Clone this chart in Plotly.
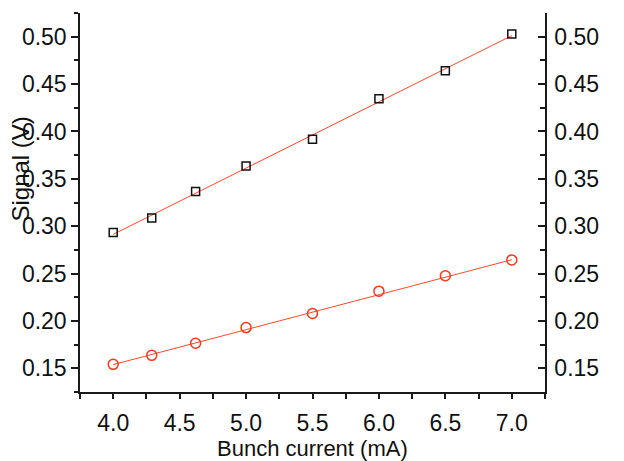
import plotly.graph_objects as go

current = [4.0, 4.29, 4.62, 5.0, 5.5, 6.0, 6.5, 7.0]
signal_sq = [0.2933, 0.3086, 0.3367, 0.3636, 0.3918, 0.4344, 0.4640, 0.5029]
signal_ci = [0.1542, 0.1637, 0.1764, 0.1930, 0.2078, 0.2314, 0.2477, 0.2644]
fit_x = [4.0, 7.0]
fit_sq = [0.2914, 0.5011]
fit_ci = [0.1539, 0.2646]

x_ticks = [4.0, 4.5, 5.0, 5.5, 6.0, 6.5, 7.0]
y_ticks = [0.15, 0.20, 0.25, 0.30, 0.35, 0.40, 0.45, 0.50]

FONT = "Arial, Liberation Sans, sans-serif"
LINE_RED = "#ff4a2a"
AX = "#1a1a1a"
TICK_SIZE = 23

fig = go.Figure()
fig.add_trace(go.Scatter(x=fit_x, y=fit_sq, mode="lines",
                         line=dict(color=LINE_RED, width=1), showlegend=False))
fig.add_trace(go.Scatter(x=fit_x, y=fit_ci, mode="lines",
                         line=dict(color=LINE_RED, width=1), showlegend=False))
fig.add_trace(go.Scatter(x=current, y=signal_sq, mode="markers",
                         marker=dict(symbol="square-open", size=8, color="#111111",
                                     line=dict(width=1.5)), showlegend=False))
fig.add_trace(go.Scatter(x=current, y=signal_ci, mode="markers",
                         marker=dict(symbol="circle-open", size=10, color="#ff3418",
                                     line=dict(width=1.5)), showlegend=False))
# invisible trace for the mirrored right axis
fig.add_trace(go.Scatter(x=fit_x, y=fit_ci, yaxis="y2", mode="lines",
                         line=dict(width=0), opacity=0, showlegend=False, hoverinfo="skip"))

fig.update_layout(
    width=624, height=461,
    margin=dict(l=80, r=79, t=13, b=69),
    paper_bgcolor="white", plot_bgcolor="white",
    font=dict(family=FONT, size=22, color="#111111"),
    xaxis=dict(range=[3.75, 7.25], tickvals=x_ticks, tickformat=".1f",
               ticks="outside", ticklen=5, tickwidth=1.5, tickcolor=AX,
               showline=True, linecolor=AX, linewidth=1.5, showgrid=False, zeroline=False,
               minor=dict(dtick=0.25, tick0=3.75, ticks="outside", ticklen=5, tickwidth=1.5, tickcolor=AX),
               tickfont=dict(size=TICK_SIZE), ticklabelstandoff=5),
    yaxis=dict(range=[0.125, 0.525], tickvals=y_ticks, tickformat=".2f",
               ticks="outside", ticklen=7, tickwidth=1.5, tickcolor=AX,
               showline=True, linecolor=AX, linewidth=1.5, showgrid=False, zeroline=False,
               minor=dict(dtick=0.025, tick0=0.125, ticks="outside", ticklen=4, tickwidth=1.5, tickcolor=AX),
               tickfont=dict(size=TICK_SIZE)),
    yaxis2=dict(range=[0.125, 0.525], tickvals=y_ticks, tickformat=".2f",
                overlaying="y", side="right",
                ticks="inside", ticklen=7, tickwidth=1.5, tickcolor=AX,
                showline=True, linecolor=AX, linewidth=1.5, showgrid=False, zeroline=False,
                minor=dict(dtick=0.025, tick0=0.125, ticks="inside", ticklen=5, tickwidth=1.5, tickcolor=AX),
                tickfont=dict(size=TICK_SIZE), ticklabelstandoff=3),
    annotations=[
        dict(text="Bunch current (mA)", xref="paper", yref="paper", x=0.5, y=0,
             xanchor="center", yanchor="middle", yshift=-56, showarrow=False,
             font=dict(size=22, family=FONT)),
        dict(text="Signal (V)", xref="paper", yref="paper", x=0, y=0.587,
             xanchor="center", yanchor="middle", xshift=-59, textangle=-90, showarrow=False,
             font=dict(size=24, family=FONT)),
    ],
)

fig.write_html("out.html")
